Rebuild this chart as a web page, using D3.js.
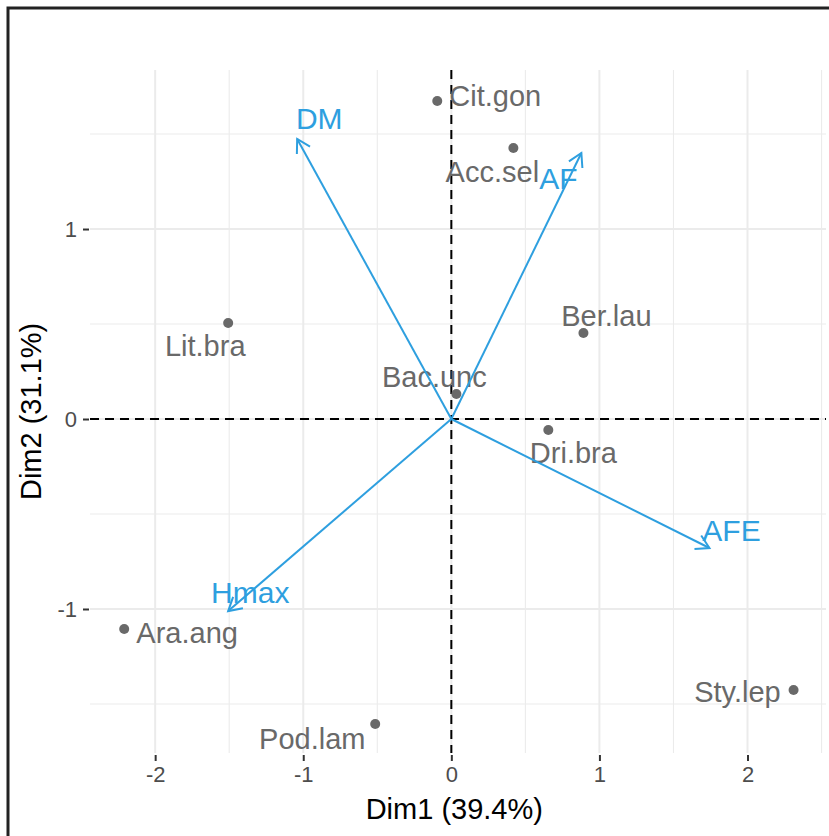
<!DOCTYPE html>
<html>
<head>
<meta charset="utf-8">
<script src="https://cdn.jsdelivr.net/npm/d3@7/dist/d3.min.js"></script>
<style>
  html, body { margin: 0; padding: 0; background: #fff; overflow: hidden; }
  svg { display: block; }
  text { font-family: "Liberation Sans", Arial, sans-serif; }
</style>
</head>
<body>
<svg id="chart" width="829" height="836"></svg>
<script>
// ---- data ----
const indNames = ["Cit.gon", "Acc.sel", "Lit.bra", "Ber.lau", "Bac.unc", "Dri.bra", "Ara.ang", "Pod.lam", "Sty.lep"];
const indDim1  = [-0.095, 0.419, -1.507, 0.892, 0.034, 0.655, -2.209, -0.514, 2.311];
const indDim2  = [1.674, 1.426, 0.505, 0.453, 0.132, -0.058, -1.105, -1.605, -1.426];
// repelled label centres (data units)
const indLabelDim1 = [0.297, 0.277, -1.662, 1.047, -0.115, 0.824, -1.784, -0.939, 1.932];
const indLabelDim2 = [1.705, 1.300, 0.384, 0.547, 0.226, -0.174, -1.126, -1.684, -1.437];

const varNames = ["DM", "AF", "AFE", "Hmax"];
const varDim1  = [-1.041, 0.878, 1.743, -1.507];
const varDim2  = [1.474, 1.400, -0.679, -1.011];
const varLabelDim1 = [-0.892, 0.723, 1.892, -1.358];
const varLabelDim2 = [1.584, 1.268, -0.584, -0.911];

const xTicks = [-2, -1, 0, 1, 2];
const yTicks = [-1, 0, 1];
const xMinor = [-1.5, -0.5, 0.5, 1.5, 2.5];
const yMinor = [-1.5, -0.5, 0.5, 1.5];
const xTitle = "Dim1 (39.4%)";
const yTitle = "Dim2 (31.1%)";

// ---- layout ----
const svg = d3.select("#chart");
const panel = { left: 90, right: 826, top: 70, bottom: 753 };
const x = d3.scaleLinear().domain([-2.44, 2.53]).range([panel.left, panel.right]);
const y = d3.scaleLinear().domain([-1.758, 1.837]).range([panel.bottom, panel.top]);

const indColor = "#696969";
const varColor = "#2E9FDF";

// outer frame (only top and left edges fall inside the picture)
svg.append("rect")
  .attr("x", 8).attr("y", 8).attr("width", 900).attr("height", 900)
  .attr("fill", "none").attr("stroke", "#222").attr("stroke-width", 3);

// grid
const grid = svg.append("g");
grid.selectAll(".vminor").data(xMinor).join("line")
  .attr("x1", d => x(d)).attr("x2", d => x(d))
  .attr("y1", panel.top).attr("y2", panel.bottom)
  .attr("stroke", "#ebebeb").attr("stroke-width", 1.1);
grid.selectAll(".hminor").data(yMinor).join("line")
  .attr("y1", d => y(d)).attr("y2", d => y(d))
  .attr("x1", panel.left).attr("x2", panel.right)
  .attr("stroke", "#ebebeb").attr("stroke-width", 1.1);
grid.selectAll(".vmajor").data(xTicks).join("line")
  .attr("x1", d => x(d)).attr("x2", d => x(d))
  .attr("y1", panel.top).attr("y2", panel.bottom)
  .attr("stroke", "#ebebeb").attr("stroke-width", 2);
grid.selectAll(".hmajor").data(yTicks).join("line")
  .attr("y1", d => y(d)).attr("y2", d => y(d))
  .attr("x1", panel.left).attr("x2", panel.right)
  .attr("stroke", "#ebebeb").attr("stroke-width", 2);

// axes (ticks + labels)
const xAxis = d3.axisBottom(x).tickValues(xTicks).tickSize(6).tickPadding(5).tickFormat(d3.format("d"));
const gx = svg.append("g").attr("transform", `translate(0,${panel.bottom + 2})`).call(xAxis);
gx.select(".domain").remove();
gx.selectAll(".tick line").attr("stroke", "#333").attr("stroke-width", 2);
gx.selectAll(".tick text").attr("fill", "#4d4d4d").attr("font-size", 22)
  .attr("font-family", "Liberation Sans, Arial, sans-serif").text(d => d < 0 ? "-" + Math.abs(d) : d);

const yAxis = d3.axisLeft(y).tickValues(yTicks).tickSize(6).tickPadding(6).tickFormat(d3.format("d"));
const gy = svg.append("g").attr("transform", `translate(${panel.left - 1},0)`).call(yAxis);
gy.select(".domain").remove();
gy.selectAll(".tick line").attr("stroke", "#333").attr("stroke-width", 2);
gy.selectAll(".tick text").attr("fill", "#4d4d4d").attr("font-size", 22)
  .attr("font-family", "Liberation Sans, Arial, sans-serif").text(d => d < 0 ? "-" + Math.abs(d) : d);

// axis titles
svg.append("text").attr("x", x(0.02)).attr("y", 819).attr("text-anchor", "middle")
  .attr("font-size", 29).attr("fill", "#000").text(xTitle);
svg.append("text").attr("transform", `translate(41,${y(0.04)}) rotate(-90)`)
  .attr("text-anchor", "middle").attr("font-size", 29).attr("fill", "#000").text(yTitle);

// dashed reference lines
svg.append("line").attr("x1", x(0)).attr("x2", x(0)).attr("y1", panel.top).attr("y2", panel.bottom)
  .attr("stroke", "#000").attr("stroke-width", 2).attr("stroke-dasharray", "9,6");
svg.append("line").attr("y1", y(0)).attr("y2", y(0)).attr("x1", panel.left).attr("x2", panel.right)
  .attr("stroke", "#000").attr("stroke-width", 2).attr("stroke-dasharray", "9,6");

// individuals
const inds = indNames.map((n, i) => ({ name: n, x: indDim1[i], y: indDim2[i], lx: indLabelDim1[i], ly: indLabelDim2[i] }));
svg.append("g").selectAll("circle").data(inds).join("circle")
  .attr("cx", d => x(d.x)).attr("cy", d => y(d.y)).attr("r", 5).attr("fill", indColor);
svg.append("g").selectAll("text").data(inds).join("text")
  .attr("x", d => x(d.lx)).attr("y", d => y(d.ly)).attr("dy", "0.36em")
  .attr("text-anchor", "middle").attr("font-size", 29).attr("fill", indColor).text(d => d.name);

// variables (arrows)
const vars = varNames.map((n, i) => ({ name: n, x: varDim1[i], y: varDim2[i], lx: varLabelDim1[i], ly: varLabelDim2[i] }));
const gv = svg.append("g");
const headLen = 15, headAng = Math.PI / 6;
vars.forEach(d => {
  const x0 = x(0), y0 = y(0), x1 = x(d.x), y1 = y(d.y);
  gv.append("line").attr("x1", x0).attr("y1", y0).attr("x2", x1).attr("y2", y1)
    .attr("stroke", varColor).attr("stroke-width", 2);
  const a = Math.atan2(y1 - y0, x1 - x0);
  const p1 = [x1 - headLen * Math.cos(a - headAng), y1 - headLen * Math.sin(a - headAng)];
  const p2 = [x1 - headLen * Math.cos(a + headAng), y1 - headLen * Math.sin(a + headAng)];
  gv.append("path").attr("d", `M${p1[0]},${p1[1]}L${x1},${y1}L${p2[0]},${p2[1]}`)
    .attr("fill", "none").attr("stroke", varColor).attr("stroke-width", 2);
});
gv.selectAll("text").data(vars).join("text")
  .attr("x", d => x(d.lx)).attr("y", d => y(d.ly)).attr("dy", "0.36em")
  .attr("text-anchor", "middle").attr("font-size", 30).attr("fill", varColor).text(d => d.name);
</script>
</body>
</html>
